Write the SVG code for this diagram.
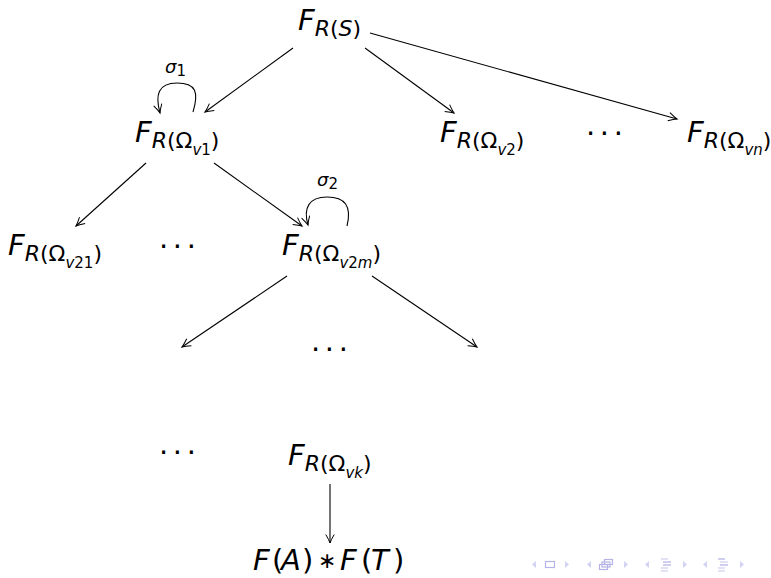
<svg xmlns="http://www.w3.org/2000/svg" width="771" height="578" viewBox="0 0 771 578">
<style>
text{font-family:"DejaVu Sans","Liberation Sans",sans-serif;font-size:29px;fill:#000}
.i{font-style:italic}
.s{font-size:22px}
.ss{font-size:15px}
.g{font-size:18px}
.dt{letter-spacing:4.6px}
.e{fill:none;stroke:#000;stroke-width:1.1}
.nt{fill:#d2d2f2}
.ni{fill:none;stroke:#b4b4e6;stroke-width:1.2}
.nl{stroke:#b4b4e6;stroke-width:1.3}
.nl2{stroke:#d2d2f2;stroke-width:1.3}
</style>
<defs>
<marker id="a" markerWidth="12" markerHeight="12" refX="10" refY="5" orient="auto" markerUnits="userSpaceOnUse">
<path d="M1.5,0.8 Q7,4 10,5 Q7,6 1.5,9.2" fill="none" stroke="#000" stroke-width="1"/>
</marker>
</defs>
<rect width="771" height="578" fill="#fff"/>
<g id="connectors">
<line class="e" x1="293" y1="48" x2="205" y2="112" marker-end="url(#a)"/>
<line class="e" x1="365" y1="48" x2="454" y2="113" marker-end="url(#a)"/>
<line class="e" x1="370" y1="33" x2="677" y2="119" marker-end="url(#a)"/>
<line class="e" x1="146" y1="163" x2="76" y2="226" marker-end="url(#a)"/>
<line class="e" x1="214" y1="163" x2="302" y2="226" marker-end="url(#a)"/>
<line class="e" x1="287" y1="276" x2="182" y2="347" marker-end="url(#a)"/>
<line class="e" x1="372" y1="276" x2="477" y2="347" marker-end="url(#a)"/>
<line class="e" x1="330" y1="484" x2="330" y2="543" marker-end="url(#a)"/>
<path class="e" d="M193,112 C199,92 196,83 177,83 C158,83 155,95 160,113" marker-end="url(#a)"/>
<path class="e" d="M347,226 C352,206 345,197 327,197 C309,197 303,208 308,225" marker-end="url(#a)"/>
<text class="g" x="165" y="73"><tspan class="i">σ</tspan><tspan class="ss" dy="3">1</tspan></text>
<text class="g" x="317" y="186"><tspan class="i">σ</tspan><tspan class="ss" dy="3">2</tspan></text>
</g>
<g id="n-rs"><text x="298" y="30"><tspan class="i">F</tspan><tspan class="s i" dy="6">R</tspan><tspan class="s">(</tspan><tspan class="s i">S</tspan><tspan class="s">)</tspan></text></g>
<g id="n-v1"><text x="135" y="142"><tspan class="i">F</tspan><tspan class="s i" dy="6">R</tspan><tspan class="s">(Ω</tspan><tspan class="ss i" dy="7">v</tspan><tspan class="ss">1</tspan><tspan class="s" dy="-7">)</tspan></text></g>
<g id="n-v2"><text x="440" y="142"><tspan class="i">F</tspan><tspan class="s i" dy="6">R</tspan><tspan class="s">(Ω</tspan><tspan class="ss i" dy="7">v</tspan><tspan class="ss">2</tspan><tspan class="s" dy="-7">)</tspan></text></g>
<g id="d1"><text class="dt" x="586" y="143">···</text></g>
<g id="n-vn"><text x="687" y="142"><tspan class="i">F</tspan><tspan class="s i" dy="6">R</tspan><tspan class="s">(Ω</tspan><tspan class="ss i" dy="7">v</tspan><tspan class="ss i">n</tspan><tspan class="s" dy="-7">)</tspan></text></g>
<g id="n-v21"><text x="8" y="255"><tspan class="i">F</tspan><tspan class="s i" dy="6">R</tspan><tspan class="s">(Ω</tspan><tspan class="ss i" dy="7">v</tspan><tspan class="ss">21</tspan><tspan class="s" dy="-7">)</tspan></text></g>
<g id="d2"><text class="dt" x="159" y="256">···</text></g>
<g id="n-v2m"><text x="282" y="255"><tspan class="i">F</tspan><tspan class="s i" dy="6">R</tspan><tspan class="s">(Ω</tspan><tspan class="ss i" dy="7">v</tspan><tspan class="ss">2</tspan><tspan class="ss i">m</tspan><tspan class="s" dy="-7">)</tspan></text></g>
<g id="d3"><text class="dt" x="311" y="359">···</text></g>
<g id="d4"><text class="dt" x="159" y="462">···</text></g>
<g id="n-vk"><text x="288" y="465"><tspan class="i">F</tspan><tspan class="s i" dy="6">R</tspan><tspan class="s">(Ω</tspan><tspan class="ss i" dy="7">v</tspan><tspan class="ss i">k</tspan><tspan class="s" dy="-7">)</tspan></text></g>
<g id="n-fa"><text y="570"><tspan class="i" x="253">F</tspan><tspan x="272">(</tspan><tspan class="i" x="281">A</tspan><tspan x="302">)</tspan><tspan x="318" font-size="22" dy="-2">∗</tspan><tspan class="i" x="340" dy="2">F</tspan><tspan x="361">(</tspan><tspan class="i" x="371">T</tspan><tspan x="393">)</tspan></text></g>
<g id="nav">
<path class="nt" d="M536,561 L532,564.5 L536,568 Z"/>
<rect class="ni" x="545.5" y="561.5" width="9" height="6"/>
<path class="nt" d="M565,561 L569,564.5 L565,568 Z"/>
<path class="nt" d="M591,561 L587,564.5 L591,568 Z"/>
<rect class="ni" x="604.5" y="559.5" width="8" height="5"/>
<rect class="ni" x="602" y="562" width="8" height="5" fill="#fff"/>
<rect class="ni" x="599.5" y="564.5" width="8" height="5" fill="#fff"/>
<path class="nt" d="M624,561 L628,564.5 L624,568 Z"/>
<path class="nt" d="M649,561 L645,564.5 L649,568 Z"/>
<line class="nl2" x1="661" y1="559" x2="668" y2="559"/>
<line class="nl" x1="663" y1="562" x2="671" y2="562"/>
<line class="nl" x1="663" y1="565" x2="671" y2="565"/>
<line class="nl2" x1="661" y1="568" x2="668" y2="568"/>
<line class="nl2" x1="661" y1="571" x2="668" y2="571"/>
<path class="nt" d="M683,561 L687,564.5 L683,568 Z"/>
<path class="nt" d="M707,561 L703,564.5 L707,568 Z"/>
<line class="nl" x1="718" y1="559" x2="725" y2="559"/>
<line class="nl2" x1="720" y1="562" x2="728" y2="562"/>
<line class="nl" x1="720" y1="565" x2="728" y2="565"/>
<line class="nl2" x1="718" y1="568" x2="725" y2="568"/>
<line class="nl2" x1="718" y1="571" x2="725" y2="571"/>
<path class="nt" d="M740,561 L744,564.5 L740,568 Z"/>
</g>
</svg>
